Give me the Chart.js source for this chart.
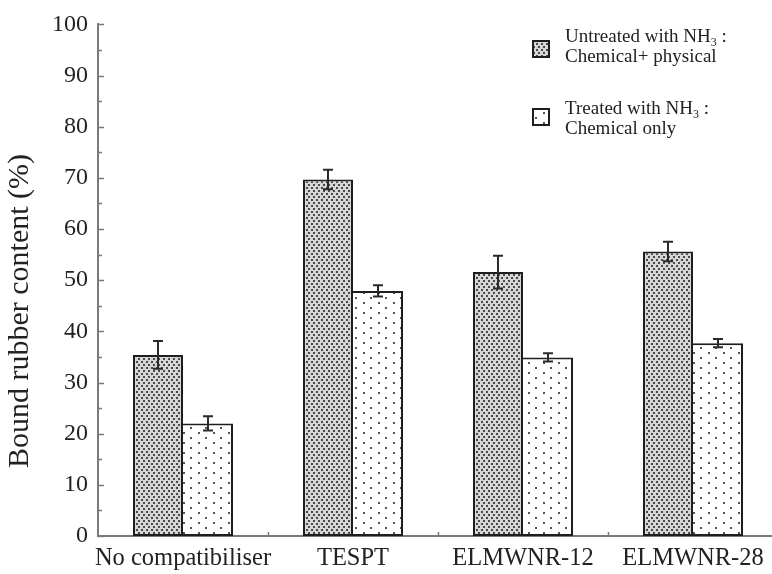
<!DOCTYPE html>
<html>
<head>
<meta charset="utf-8">
<script src="https://cdn.jsdelivr.net/npm/chart.js@4/dist/chart.umd.min.js"></script>
<style>
  html, body { margin: 0; padding: 0; overflow: hidden; background: #fff; }
  #wrap { width: 790px; height: 574px; }
</style>
</head>
<body>
<div id="wrap"><canvas id="c" width="790" height="574"></canvas></div>
<script>
// Bound rubber content per compatibiliser system
const categories = ['No compatibiliser', 'TESPT', 'ELMWNR-12', 'ELMWNR-28'];
const untreated = [35.4, 69.7, 51.6, 55.6];
const untreatedErr = [2.7, 1.9, 3.2, 1.9];
const treated = [22.0, 47.9, 34.9, 37.7];
const treatedErr = [1.4, 1.1, 0.8, 0.8];
const yLabelValues = [0, 10, 20, 30, 40, 50, 60, 70, 80, 90, 100];
const yTitle = 'Bound rubber content (%)';
const legendUntreated = [['Untreated with NH', '3', ' :'], 'Chemical+ physical'];
const legendTreated = [['Treated with NH', '3', ' :'], 'Chemical only'];

const SERIF = '"Liberation Serif", "Times New Roman", serif';

function dotPattern(w, h, bg, dots, color, size) {
  const c = document.createElement('canvas');
  c.width = w; c.height = h;
  const g = c.getContext('2d');
  g.fillStyle = bg; g.fillRect(0, 0, w, h);
  g.fillStyle = color;
  dots.forEach(([x, y]) => g.fillRect(x, y, size, size));
  return g.createPattern(c, 'repeat');
}

const densePattern = dotPattern(5, 6, '#d6d6d6', [[1, 1], [3, 4]], '#4a4a4a', 2);
const sparsePattern = dotPattern(15, 10, '#ffffff', [[3, 2], [10, 7]], '#555555', 2);

// error bars on top of each bar
const errorBars = {
  id: 'errorBars',
  afterDatasetsDraw(chart) {
    const { ctx, scales: { y } } = chart;
    [untreatedErr, treatedErr].forEach((errs, di) => {
      const meta = chart.getDatasetMeta(di);
      const vals = chart.data.datasets[di].data;
      meta.data.forEach((bar, i) => {
        const x = Math.round(bar.x);
        const top = y.getPixelForValue(vals[i] + errs[i]);
        const bot = y.getPixelForValue(vals[i] - errs[i]);
        ctx.save();
        ctx.strokeStyle = '#2a2a2a';
        ctx.lineWidth = 2;
        ctx.beginPath();
        ctx.moveTo(x, top); ctx.lineTo(x, bot);
        ctx.moveTo(x - 5, top); ctx.lineTo(x + 5, top);
        ctx.moveTo(x - 5, bot); ctx.lineTo(x + 5, bot);
        ctx.stroke();
        ctx.restore();
      });
    });
  }
};

// inward tick marks on both axes
const innerTicks = {
  id: 'innerTicks',
  afterDraw(chart) {
    const { ctx, scales: { x, y }, chartArea } = chart;
    ctx.save();
    ctx.strokeStyle = '#7a7a7a';
    ctx.lineWidth = 1.5;
    ctx.beginPath();
    y.ticks.forEach(t => {
      const py = Math.round(y.getPixelForValue(t.value)) + 0.5;
      const len = yLabelValues.includes(t.value) ? 6 : 4;
      ctx.moveTo(chartArea.left, py);
      ctx.lineTo(chartArea.left + len, py);
    });
    const half = (x.getPixelForValue(1) - x.getPixelForValue(0)) / 2;
    for (let i = 1; i < categories.length; i++) {
      const px = Math.round(x.getPixelForValue(i) - half) + 0.5;
      ctx.moveTo(px, chartArea.bottom);
      ctx.lineTo(px, chartArea.bottom - 4);
    }
    ctx.stroke();
    ctx.restore();
  }
};

// legend with subscript text, and the rotated axis title
const annotations = {
  id: 'annotations',
  afterDraw(chart) {
    const ctx = chart.ctx;
    ctx.save();
    ctx.fillStyle = '#222';
    ctx.textBaseline = 'alphabetic';
    ctx.textAlign = 'left';

    const drawEntry = (lines, pattern, boxY, baseY) => {
      ctx.fillStyle = pattern;
      ctx.fillRect(533, boxY, 16, 16);
      ctx.strokeStyle = '#1e1e1e';
      ctx.lineWidth = 2;
      ctx.strokeRect(533, boxY, 16, 16);
      ctx.fillStyle = '#222';
      const [main, sub, tail] = lines[0];
      ctx.font = '19px ' + SERIF;
      ctx.fillText(main, 565, baseY);
      let w = ctx.measureText(main).width;
      ctx.font = '12px ' + SERIF;
      ctx.fillText(sub, 565 + w, baseY + 4);
      w += ctx.measureText(sub).width;
      ctx.font = '19px ' + SERIF;
      ctx.fillText(tail, 565 + w, baseY);
      ctx.fillText(lines[1], 565, baseY + 20);
    };
    drawEntry(legendUntreated, densePattern, 41, 42);
    drawEntry(legendTreated, sparsePattern, 109, 114);

    ctx.translate(20, 311);
    ctx.rotate(-Math.PI / 2);
    ctx.textAlign = 'center';
    ctx.textBaseline = 'middle';
    ctx.font = '30px ' + SERIF;
    ctx.fillStyle = '#222';
    ctx.fillText(yTitle, 0, 0);
    ctx.restore();
  }
};

new Chart(document.getElementById('c'), {
  type: 'bar',
  data: {
    labels: categories,
    datasets: [
      {
        label: 'Untreated with NH3: Chemical+ physical',
        data: untreated,
        backgroundColor: densePattern,
        borderColor: '#1e1e1e',
        borderWidth: 2,
        borderSkipped: false
      },
      {
        label: 'Treated with NH3: Chemical only',
        data: treated,
        backgroundColor: sparsePattern,
        borderColor: '#1e1e1e',
        borderWidth: 2,
        borderSkipped: 'left'
      }
    ]
  },
  options: {
    responsive: false,
    animation: false,
    devicePixelRatio: 1,
    categoryPercentage: 100 / 170,
    barPercentage: 1,
    layout: { padding: { top: 20, right: 12, left: 0, bottom: 0 } },
    plugins: { legend: { display: false }, tooltip: { enabled: false } },
    scales: {
      x: {
        grid: { display: false, drawTicks: false },
        border: { color: '#7a7a7a', width: 2 },
        ticks: {
          color: '#222',
          font: { family: SERIF, size: 24.5 },
          padding: 8,
          maxRotation: 0,
          autoSkip: false
        },
        afterFit(s) { s.height = 38; }
      },
      y: {
        min: 0,
        max: 100,
        grid: { display: false, drawTicks: false },
        border: { color: '#7a7a7a', width: 2 },
        ticks: {
          stepSize: 5,
          autoSkip: false,
          color: '#222',
          font: { family: SERIF, size: 24 },
          padding: 10,
          callback: v => (yLabelValues.includes(v) ? String(v) : '')
        },
        afterFit(s) { s.width = 98; }
      }
    }
  },
  plugins: [errorBars, innerTicks, annotations]
});
</script>
</body>
</html>
